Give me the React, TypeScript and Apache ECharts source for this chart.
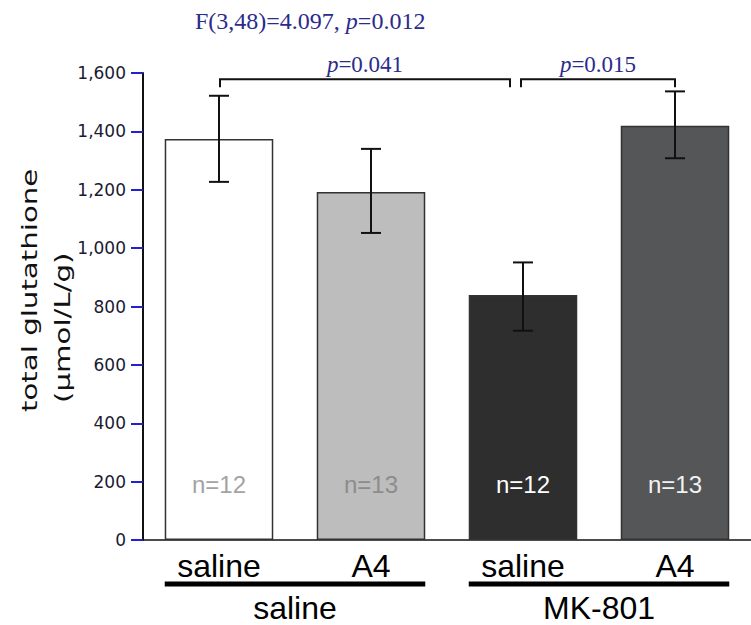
import React, { useEffect, useRef } from "react";
import * as echarts from "echarts";

// ---- data ----
const categories = ["saline", "A4", "saline", "A4"];
const means = [1374, 1192, 839, 1419];
const errLow = [1227, 1052, 717, 1308];
const errHigh = [1522, 1340, 951, 1537];
const nLabels = ["n=12", "n=13", "n=12", "n=13"];
const groupLabels = ["saline", "MK-801"];
const groupFrom = [0, 2];
const groupTo = [1, 3];
const bracketFrom = [0, 2];
const bracketTo = [2, 3];
const bracketLevel = [1579, 1579];
const bracketP = ["0.041", "0.015"];
const yMax = 1600;
const yInterval = 200;
const statF = "F(3,48)=4.097, ";
const statP = "=0.012";

// ---- styles ----
const barColors = ["#ffffff", "#bdbdbd", "#2e2e2e", "#555658"];
const nColors = ["#a3a3a3", "#8c8c8c", "#ffffff", "#f2f2f2"];
const bracketNudge = [
  [1, -13],
  [-2, 0],
];
const navy = "#2b2b8c";
const barWidthRatio = 0.714;

export default function App() {
  const ref = useRef<HTMLDivElement>(null);
  useEffect(() => {
    if (!ref.current) return;
    const chart = echarts.init(ref.current, null, { renderer: "svg" });
    const option: any = {
      animation: false,
      backgroundColor: "#ffffff",
      title: {
        left: 190,
        top: 4,
        text: "{a|" + statF + "}{i|p}{a|" + statP + "}",
        textStyle: {
          fontWeight: "normal",
          rich: {
            a: { fontFamily: "Liberation Serif", fontSize: 24, fontWeight: "normal", color: navy },
            i: {
              fontFamily: "Liberation Serif",
              fontSize: 24,
              fontWeight: "normal",
              color: navy,
              fontStyle: "italic",
            },
          },
        },
      },
      grid: { left: 143, top: 73, width: 616, height: 467 },
      xAxis: {
        type: "category",
        data: categories,
        axisLine: { show: true, lineStyle: { color: "#111", width: 1.5 } },
        axisTick: { show: false },
        axisLabel: {
          fontSize: 32,
          fontFamily: "Liberation Sans",
          color: "#000",
          margin: 10,
        },
      },
      yAxis: {
        type: "value",
        min: 0,
        max: yMax,
        interval: yInterval,
        splitLine: { show: false },
        axisLine: { show: true, lineStyle: { color: "#111", width: 2 } },
        axisTick: { show: true, length: 12, lineStyle: { color: "#2222cc", width: 2 } },
        axisLabel: {
          margin: 17,
          fontSize: 17,
          fontFamily: "DejaVu Sans",
          color: "#1a1a33",
          formatter: (v: number) => v.toLocaleString("en-US"),
        },
      },
      graphic: [
        {
          type: "text",
          x: 29,
          y: 412,
          rotation: Math.PI / 2,
          scaleX: 1.33,
          style: {
            text: "total glutathione",
            fontFamily: "DejaVu Sans",
            fontSize: 22,
            fill: "#111",
            align: "left",
            verticalAlign: "middle",
          },
        },
        {
          type: "text",
          x: 62,
          y: 403,
          rotation: Math.PI / 2,
          scaleX: 1.33,
          style: {
            text: "(µmol/L/g)",
            fontFamily: "DejaVu Sans",
            fontSize: 22,
            fill: "#111",
            align: "left",
            verticalAlign: "middle",
          },
        },
      ],
      series: [
        {
          type: "bar",
          barWidth: barWidthRatio * 100 + "%",
          data: means.map((v, i) => ({
            value: v,
            itemStyle: { color: barColors[i], borderColor: "#333", borderWidth: 1.5 },
            label: { color: nColors[i] },
          })),
          label: {
            show: true,
            position: "insideBottom",
            distance: 44,
            fontSize: 24,
            fontFamily: "Liberation Sans",
            formatter: (p: any) => nLabels[p.dataIndex],
          },
          z: 2,
        },
        {
          type: "custom",
          z: 4,
          encode: { x: 0, y: [1, 2] },
          data: means.map((_, i) => [i, errLow[i], errHigh[i]]),
          renderItem: (params: any, api: any) => {
            const x = api.value(0);
            const pLo = api.coord([x, api.value(1)]);
            const pHi = api.coord([x, api.value(2)]);
            const cx = pLo[0];
            const half = 10;
            const st = { stroke: "#111", lineWidth: 2 };
            return {
              type: "group",
              children: [
                { type: "line", shape: { x1: cx, y1: pHi[1], x2: cx, y2: pLo[1] }, style: st },
                { type: "line", shape: { x1: cx - half, y1: pHi[1], x2: cx + half, y2: pHi[1] }, style: st },
                { type: "line", shape: { x1: cx - half, y1: pLo[1], x2: cx + half, y2: pLo[1] }, style: st },
              ],
            };
          },
        },
        {
          type: "custom",
          z: 4,
          clip: false,
          encode: { x: [0, 1], y: 2 },
          data: bracketFrom.map((f, i) => [f, bracketTo[i], bracketLevel[i]]),
          renderItem: (params: any, api: any) => {
            const i = params.dataIndex;
            const pa = api.coord([api.value(0), api.value(2)]);
            const pb = api.coord([api.value(1), api.value(2)]);
            const x1 = pa[0] + bracketNudge[i][0];
            const x2 = pb[0] + bracketNudge[i][1];
            const y = pa[1];
            const leg = 8;
            return {
              type: "group",
              children: [
                {
                  type: "polyline",
                  shape: { points: [[x1, y + leg], [x1, y], [x2, y], [x2, y + leg]] },
                  style: { stroke: "#111", lineWidth: 2, fill: null },
                },
                {
                  type: "text",
                  x: (x1 + x2) / 2,
                  y: y - 15,
                  style: {
                    text: "{i|p}{a|=" + bracketP[i] + "}",
                    align: "center",
                    verticalAlign: "middle",
                    rich: {
                      a: { fontFamily: "Liberation Serif", fontSize: 23, fill: navy, color: navy },
                      i: { fontFamily: "Liberation Serif", fontSize: 23, fill: navy, color: navy, fontStyle: "italic" },
                    },
                  },
                },
              ],
            };
          },
        },
        {
          type: "custom",
          z: 4,
          clip: false,
          encode: { x: [0, 1], y: 2 },
          data: groupFrom.map((f, i) => [f, groupTo[i], 0]),
          renderItem: (params: any, api: any) => {
            const i = params.dataIndex;
            const pa = api.coord([api.value(0), 0]);
            const pb = api.coord([api.value(1), 0]);
            const bw = api.size([1, 0])[0] * barWidthRatio;
            const x1 = pa[0] - bw / 2;
            const x2 = pb[0] + bw / 2;
            const y = pa[1];
            return {
              type: "group",
              children: [
                {
                  type: "line",
                  shape: { x1, y1: y + 44, x2, y2: y + 44 },
                  style: { stroke: "#000", lineWidth: 5 },
                },
                {
                  type: "text",
                  x: (pa[0] + pb[0]) / 2,
                  y: y + 68,
                  style: {
                    text: groupLabels[i],
                    fontFamily: "Liberation Sans",
                    fontSize: 32,
                    fill: "#000",
                    align: "center",
                    verticalAlign: "middle",
                  },
                },
              ],
            };
          },
        },
      ],
    };
    chart.setOption(option);
    return () => chart.dispose();
  }, []);
  return (
    <div
      ref={ref}
      style={{ position: "fixed", left: 0, top: 0, width: 751, height: 625 }}
    />
  );
}
